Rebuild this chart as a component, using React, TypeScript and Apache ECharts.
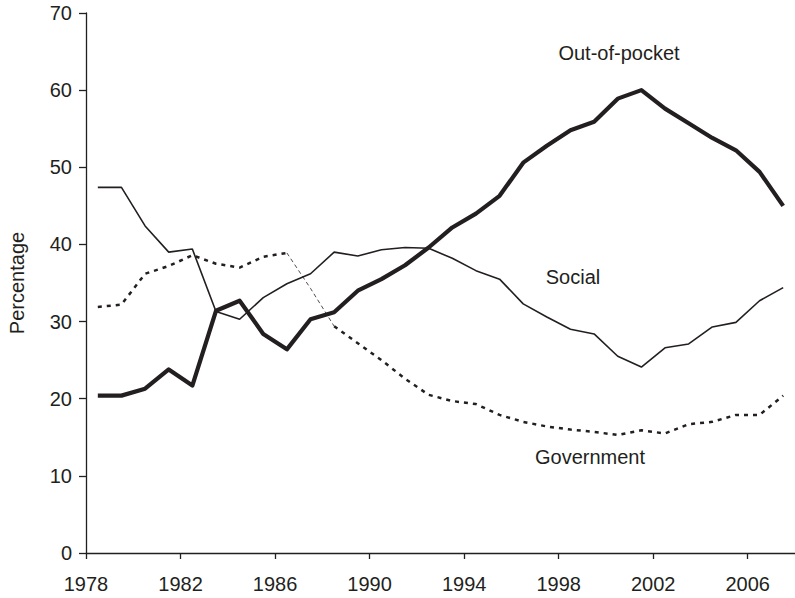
import React, { useEffect, useRef } from "react";
import * as echarts from "echarts";

const years = [
  1978, 1979, 1980, 1981, 1982, 1983, 1984, 1985, 1986, 1987,
  1988, 1989, 1990, 1991, 1992, 1993, 1994, 1995, 1996, 1997,
  1998, 1999, 2000, 2001, 2002, 2003, 2004, 2005, 2006, 2007,
];

const outOfPocket = [
  20.4, 20.4, 21.3, 23.8, 21.7, 31.4, 32.7, 28.4, 26.4, 30.3,
  31.2, 34.0, 35.5, 37.3, 39.6, 42.2, 44.0, 46.3, 50.6, 52.8,
  54.8, 55.9, 58.9, 60.0, 57.6, 55.7, 53.8, 52.2, 49.4, 45.0,
];

const social = [
  47.4, 47.4, 42.4, 39.0, 39.4, 31.3, 30.3, 33.1, 34.9, 36.2,
  39.0, 38.5, 39.3, 39.6, 39.5, 38.2, 36.6, 35.5, 32.3, 30.6,
  29.0, 28.4, 25.5, 24.1, 26.6, 27.1, 29.3, 29.9, 32.7, 34.4,
];

const government = [
  31.9, 32.2, 36.2, 37.2, 38.6, 37.5, 37.0, 38.4, 38.9, 34.3,
  29.4, 27.2, 25.0, 22.6, 20.5, 19.7, 19.3, 17.9, 17.0, 16.4,
  16.0, 15.7, 15.3, 15.9, 15.5, 16.7, 17.0, 17.9, 17.9, 20.4,
];

// years whose government segment is drawn thin in the original
const govThinFrom = 1986;
const govThinTo = 1988;

const xTicks = [1978, 1982, 1986, 1990, 1994, 1998, 2002, 2006];
const yTicks = [0, 10, 20, 30, 40, 50, 60, 70];

const INK = "#231f20";
const FONT = "'Liberation Sans', Arial, Helvetica, sans-serif";

export default function App() {
  const ref = useRef<HTMLDivElement>(null);

  useEffect(() => {
    if (!ref.current) return;
    const chart = echarts.init(ref.current, undefined, { renderer: "svg" });

    const pt = (arr: number[]) => years.map((y, i) => [y + 0.5, arr[i]]);
    const govThick = years.map((y, i) =>
      y > govThinFrom && y < govThinTo ? [y + 0.5, null] : [y + 0.5, government[i]]
    );
    const govThin = years
      .map((y, i) => [y + 0.5, government[i]])
      .filter((p, i) => years[i] >= govThinFrom && years[i] <= govThinTo);

    chart.setOption({
      animation: false,
      backgroundColor: "#ffffff",
      textStyle: { fontFamily: FONT, color: INK },
      grid: { left: 86, right: 0, top: 13, bottom: 45, containLabel: false },
      xAxis: {
        type: "value",
        min: xTicks[0],
        max: 2008,
        interval: 4,
        splitLine: { show: false },
        axisLine: { lineStyle: { color: INK, width: 1.3 } },
        axisTick: { show: true, length: 6, lineStyle: { color: INK, width: 1.3 } },
        axisLabel: {
          color: INK,
          fontSize: 20,
          fontFamily: FONT,
          margin: 21,
          showMaxLabel: false,
          formatter: (v: number) => (xTicks.includes(v) ? String(v) : ""),
        },
      },
      yAxis: {
        type: "value",
        min: yTicks[0],
        max: yTicks[yTicks.length - 1],
        interval: 10,
        splitLine: { show: false },
        axisLine: { show: true, lineStyle: { color: INK, width: 1.3 } },
        axisTick: { show: true, length: 7, lineStyle: { color: INK, width: 1.3 } },
        axisLabel: { color: INK, fontSize: 20, fontFamily: FONT, margin: 14 },
      },
      graphic: [
        {
          type: "text",
          x: 17,
          y: 283,
          rotation: Math.PI / 2,
          style: {
            text: "Percentage",
            fill: INK,
            font: `20px ${FONT}`,
            align: "center",
            verticalAlign: "middle",
          },
        },
        {
          type: "text",
          x: 619,
          y: 53,
          style: {
            text: "Out-of-pocket",
            fill: INK,
            font: `20px ${FONT}`,
            align: "center",
            verticalAlign: "middle",
          },
        },
        {
          type: "text",
          x: 573,
          y: 277,
          style: {
            text: "Social",
            fill: INK,
            font: `20px ${FONT}`,
            align: "center",
            verticalAlign: "middle",
          },
        },
        {
          type: "text",
          x: 590,
          y: 457,
          style: {
            text: "Government",
            fill: INK,
            font: `20px ${FONT}`,
            align: "center",
            verticalAlign: "middle",
          },
        },
      ],
      series: [
        {
          name: "Government",
          type: "line",
          data: govThick,
          symbol: "none",
          connectNulls: false,
          lineStyle: { color: INK, width: 2.5, type: [4, 5] },
        },
        {
          name: "Government (thin)",
          type: "line",
          data: govThin,
          symbol: "none",
          lineStyle: { color: INK, width: 0.8, type: [4, 3] },
        },
        {
          name: "Social",
          type: "line",
          data: pt(social),
          symbol: "none",
          lineStyle: { color: INK, width: 1.6 },
        },
        {
          name: "Out-of-pocket",
          type: "line",
          data: pt(outOfPocket),
          symbol: "none",
          lineStyle: { color: INK, width: 4.2, join: "round" },
        },
      ],
    });

    return () => chart.dispose();
  }, []);

  return (
    <div
      ref={ref}
      style={{ position: "fixed", left: 0, top: 0, width: 795, height: 598, background: "#fff" }}
    />
  );
}
